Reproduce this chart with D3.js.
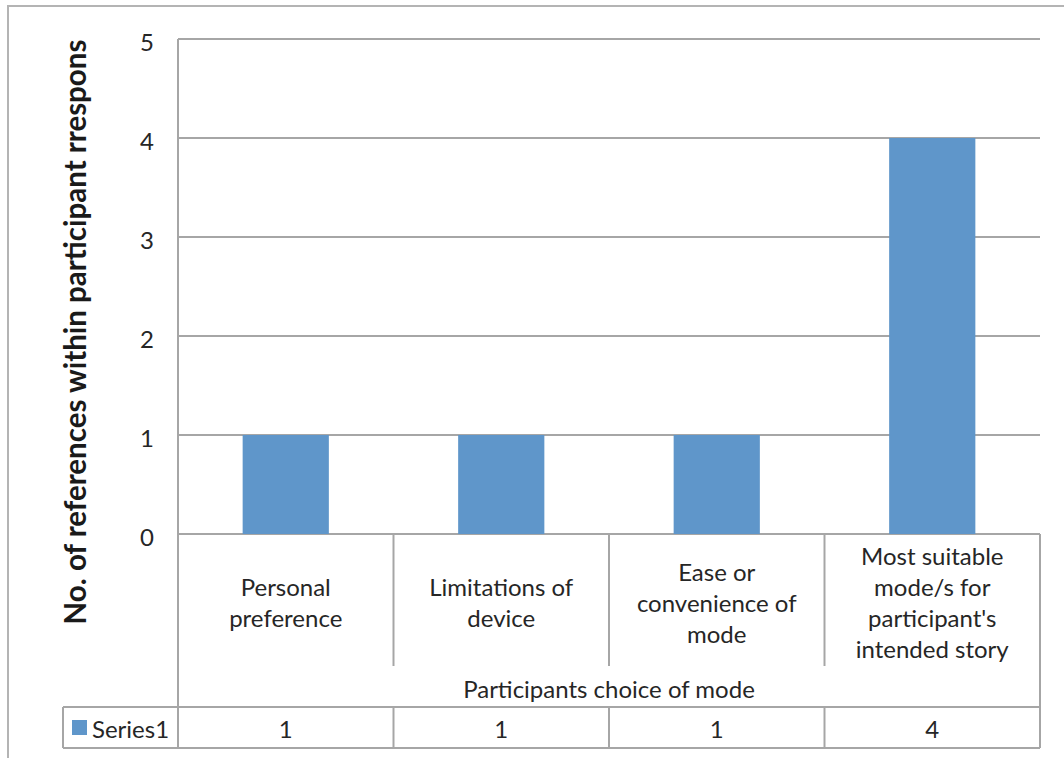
<!DOCTYPE html>
<html>
<head>
<meta charset="utf-8">
<script src="https://cdn.jsdelivr.net/npm/d3@7"></script>
<style>
  html, body { margin: 0; padding: 0; background: #fff; }
  svg { display: block; font-family: Lato, "Open Sans", sans-serif; }
</style>
</head>
<body>
<svg id="chart" width="1064" height="758"></svg>
<script>
// Reasons participants gave for their choice of mode
const categories = [
  "Personal preference",
  "Limitations of device",
  "Ease or convenience of mode",
  "Most suitable mode/s for participant's intended story"
];
const series1 = [1, 1, 1, 4];
const yTicks = [0, 1, 2, 3, 4, 5];
const seriesName = "Series1";
const xTitle = "Participants choice of mode";
const yTitle = "No. of references within participant rrespons";

const svg = d3.select("#chart");
const gridColor = "#a6a6a6";
const barColor = "#5f96ca";
const textColor = "#262626";
const fontSize = 24;

const plot = { left: 178, right: 1040, top: 39, bottom: 534 };
const table = { labelBottom: 666, rowTop: 707, rowBottom: 748, legendLeft: 63 };

const x = d3.scaleBand()
  .domain(categories)
  .range([plot.left, plot.right])
  .paddingInner(0.6)
  .paddingOuter(0.3);

const y = d3.scaleLinear().domain([0, 5]).range([plot.bottom, plot.top]);

// outer chart frame
svg.append("rect")
  .attr("x", 8).attr("y", 6)
  .attr("width", 1080).attr("height", 780)
  .attr("fill", "#fff")
  .attr("stroke", "#b4b4b4").attr("stroke-width", 2);

// horizontal gridlines
svg.append("g").selectAll("line").data(yTicks).join("line")
  .attr("x1", plot.left).attr("x2", plot.right)
  .attr("y1", d => y(d)).attr("y2", d => y(d))
  .attr("stroke", gridColor).attr("stroke-width", 2);

// y tick labels
svg.append("g").selectAll("text").data(yTicks).join("text")
  .attr("x", 154).attr("y", d => y(d) + 2)
  .attr("text-anchor", "end")
  .attr("dominant-baseline", "central")
  .attr("font-size", fontSize)
  .attr("fill", textColor)
  .text(d => d);

// bars
svg.append("g").selectAll("rect").data(categories).join("rect")
  .attr("x", d => x(d))
  .attr("width", x.bandwidth())
  .attr("y", (d, i) => y(series1[i]))
  .attr("height", (d, i) => y(0) - y(series1[i]))
  .attr("fill", barColor);

// data table grid
const lines = svg.append("g")
  .attr("stroke", gridColor).attr("stroke-width", 2).attr("fill", "none");
const step = x.step();
const bounds = d3.range(categories.length + 1).map(i => plot.left + i * step);

// y axis line runs through the table
lines.append("line")
  .attr("x1", plot.left).attr("x2", plot.left)
  .attr("y1", plot.top).attr("y2", table.rowBottom);
lines.append("line")
  .attr("x1", plot.right).attr("x2", plot.right)
  .attr("y1", plot.bottom).attr("y2", table.rowBottom);
// category separators
bounds.slice(1, -1).forEach(bx => {
  lines.append("line").attr("x1", bx).attr("x2", bx)
    .attr("y1", plot.bottom).attr("y2", table.labelBottom);
  lines.append("line").attr("x1", bx).attr("x2", bx)
    .attr("y1", table.rowTop).attr("y2", table.rowBottom);
});
// series row
lines.append("line")
  .attr("x1", table.legendLeft).attr("x2", plot.right)
  .attr("y1", table.rowTop).attr("y2", table.rowTop);
lines.append("line")
  .attr("x1", table.legendLeft).attr("x2", plot.right)
  .attr("y1", table.rowBottom).attr("y2", table.rowBottom);
lines.append("line")
  .attr("x1", table.legendLeft).attr("x2", table.legendLeft)
  .attr("y1", table.rowTop).attr("y2", table.rowBottom);

// category labels, wrapped to fit the column
const measure = svg.append("text").attr("font-size", fontSize).attr("opacity", 0);
function wrap(label, maxWidth) {
  const words = label.split(" ");
  const out = [];
  let cur = "";
  words.forEach(w => {
    const trial = cur ? cur + " " + w : w;
    measure.text(trial);
    if (cur && measure.node().getComputedTextLength() > maxWidth) {
      out.push(cur);
      cur = w;
    } else {
      cur = trial;
    }
  });
  if (cur) out.push(cur);
  return out;
}

const lineH = 31;
const labelMid = 602;
const catLabels = svg.append("g")
  .attr("font-size", fontSize)
  .attr("fill", textColor)
  .attr("text-anchor", "middle");
categories.forEach(c => {
  const ls = wrap(c, 178);
  const cx = x(c) + x.bandwidth() / 2;
  const t = catLabels.append("text");
  ls.forEach((l, i) => {
    t.append("tspan")
      .attr("x", cx)
      .attr("y", labelMid + (i - (ls.length - 1) / 2) * lineH)
      .attr("dominant-baseline", "central")
      .text(l);
  });
});
measure.remove();

// x axis title
svg.append("text")
  .attr("x", (plot.left + plot.right) / 2)
  .attr("y", 688)
  .attr("text-anchor", "middle")
  .attr("dominant-baseline", "central")
  .attr("font-size", fontSize)
  .attr("fill", textColor)
  .text(xTitle);

// series values row
svg.append("g").selectAll("text").data(categories).join("text")
  .attr("x", d => x(d) + x.bandwidth() / 2)
  .attr("y", 728)
  .attr("text-anchor", "middle")
  .attr("dominant-baseline", "central")
  .attr("font-size", fontSize)
  .attr("fill", textColor)
  .text((d, i) => series1[i]);

// legend key
svg.append("rect")
  .attr("x", 72).attr("y", 720)
  .attr("width", 15).attr("height", 15)
  .attr("fill", barColor);
svg.append("text")
  .attr("x", 92).attr("y", 728)
  .attr("dominant-baseline", "central")
  .attr("font-size", fontSize)
  .attr("fill", textColor)
  .text(seriesName);

// y axis title
svg.append("text")
  .attr("transform", "translate(86,332) rotate(-90)")
  .attr("text-anchor", "middle")
  .attr("font-size", 29.5)
  .attr("font-weight", "bold")
  .attr("fill", "#1a1a1a")
  .text(yTitle);
</script>
</body>
</html>
